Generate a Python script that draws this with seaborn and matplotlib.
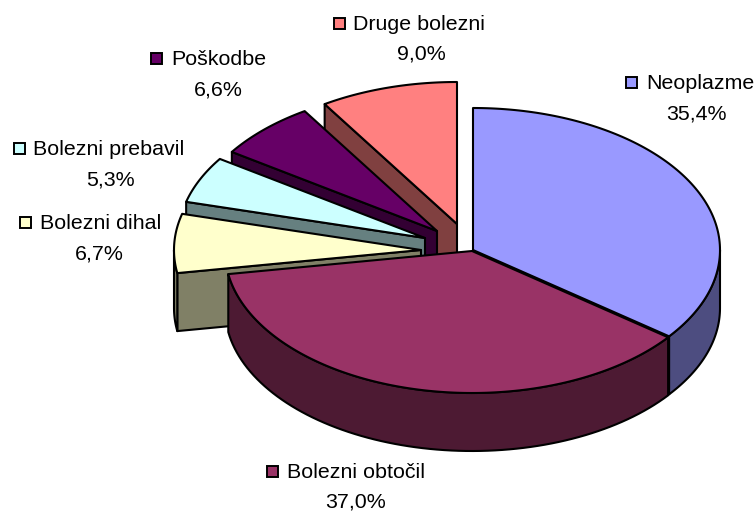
import numpy as np
import matplotlib.pyplot as plt
import seaborn as sns
from matplotlib.patches import Rectangle

sns.set_theme(style="white")
plt.rcParams['font.family'] = ['Liberation Sans', 'DejaVu Sans']

# Data, clockwise from 12 o'clock
categories = ['Neoplazme', 'Bolezni obtočil', 'Bolezni dihal',
              'Bolezni prebavil', 'Poškodbe', 'Druge bolezni']
values = [35.4, 37.0, 6.7, 5.3, 6.6, 9.0]
value_labels = ['35,4%', '37,0%', '6,7%', '5,3%', '6,6%', '9,0%']

top_colors = ['#9999FF', '#993366', '#FFFFCC', '#CCFFFF', '#660066', '#FF8080']
side_colors = ['#4D4D80', '#4D1A33', '#808066', '#668080', '#330033', '#804040']

# Pie geometry in pixels
rx, ry, depth = 247, 142, 58
apex_x = [473, 472, 421, 425, 437, 457]
apex_y = [250, 251, 250, 238, 231, 224]

# Legend key left edge, text left edge, row y, percent centre x
key_x = [626, 267, 20, 14, 151, 334]
text_x = [646, 287, 40, 33, 171, 353]
row_y = [83, 472, 223, 149, 59, 24]
pct_x = [696, 356, 99, 110, 218, 421]

draw_order = [5, 4, 3, 2, 0, 1]  # back to front
edge = dict(edgecolor='black', linewidth=1.5, joinstyle='round')


def rim_point(i, angle):
    a = np.radians(angle)
    return apex_x[i] + rx * np.sin(a), apex_y[i] - ry * np.cos(a)


def draw_cut(ax, i, angle):
    x, y = rim_point(i, angle)
    xs = [apex_x[i], x, x, apex_x[i]]
    ys = [apex_y[i], y, y + depth, apex_y[i] + depth]
    ax.fill(xs, ys, facecolor=side_colors[i], **edge)


fig, ax = plt.subplots(figsize=(7.55, 5.11), dpi=100)
fig.subplots_adjust(0, 0, 1, 1)
ax.set_xlim(0, 755)
ax.set_ylim(511, 0)
ax.axis('off')

ends = np.cumsum(values) * 3.6
starts = ends - np.array(values) * 3.6

for i in draw_order:
    a0, a1 = starts[i], ends[i]

    # cut faces that look towards the viewer
    if np.sin(np.radians(a1)) > 0.001:
        draw_cut(ax, i, a1)
    if np.sin(np.radians(a0)) < -0.001:
        draw_cut(ax, i, a0)

    # outer rim, front half only
    r0, r1 = max(a0, 90), min(a1, 270)
    if r1 > r0:
        t = np.linspace(r0, r1, 80)
        x, y = rim_point(i, t)
        ax.fill(np.r_[x, x[::-1]], np.r_[y, y[::-1] + depth],
                facecolor=side_colors[i], **edge)

    # top of the slice
    t = np.linspace(a0, a1, 120)
    x, y = rim_point(i, t)
    ax.fill(np.r_[apex_x[i], x], np.r_[apex_y[i], y],
            facecolor=top_colors[i], **edge)

# Labels
for i, name in enumerate(categories):
    ax.add_patch(Rectangle((key_x[i], row_y[i] - 5.5), 11, 11,
                           facecolor=top_colors[i], edgecolor='black', linewidth=1.4))
    ax.text(text_x[i], row_y[i] + 0.5, name, fontsize=15.4, color='black',
            ha='left', va='center')
    ax.text(pct_x[i], row_y[i] + 30.5, value_labels[i], fontsize=15.4, color='black',
            ha='center', va='center')

fig.savefig('out.png', dpi=100)
